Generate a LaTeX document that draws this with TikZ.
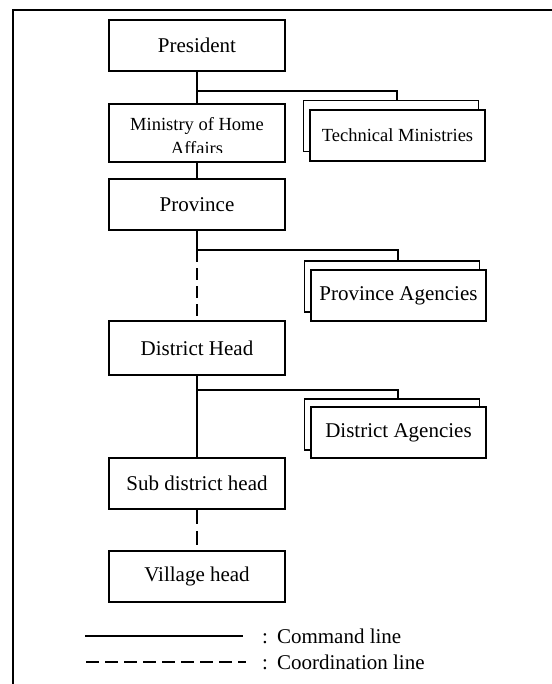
\documentclass[tikz,border=0pt]{standalone}
\usepackage{fontspec}
\setmainfont{Liberation Serif}
\begin{document}
\begin{tikzpicture}[x=1pt,y=-1pt,
  box/.style={draw,line width=1.8pt,fill=white,inner sep=0pt,
    minimum width=176pt,minimum height=51pt,
    font=\fontsize{21}{25}\selectfont},
  agency/.style={box,minimum width=175pt},
  smalltext/.style={font=\fontsize{18.5}{25}\selectfont},
  cmd/.style={line width=1.8pt},
  coordline/.style={line width=1.8pt,dash pattern=on 12pt off 6pt},
  legendtext/.style={anchor=west,inner sep=0pt,font=\fontsize{21}{25}\selectfont}]
\useasboundingbox (0,0) rectangle (551,684);

% outer frame (open to the right and bottom)
\draw[line width=2.4pt] (570,10) -- (13,10) -- (13,700);

% main chain of offices
\node[box] (pres) at (197,45.5) {President};
\node[box,minimum height=58pt] (moha) at (197,133) {};
\begin{scope}
  \clip (110,105) rectangle (284,152.5);
  \node[smalltext,anchor=base,inner sep=0pt] (mohaA) at (197,130.5) {Ministry of Home};
  \node[smalltext,anchor=base,inner sep=0pt] (mohaB) at (197,154.5) {Affairs};
\end{scope}
\node[box] (prov) at (197,204.5) {Province};
\node[box,minimum height=54pt] (dist) at (197,348) {District Head};
\node[box] (sub) at (197,483.5) {Sub district head};
\node[box] (vil) at (197,576.5) {Village head};

% stacked boxes for the sectoral bodies
\node[agency] (techB) at (391,126) {};
\node[agency,smalltext] (tech) at (397.5,135.5) {Technical Ministries};
\node[agency] (provagB) at (392,286.5) {};
\node[agency] (provag) at (398.5,295.5) {Province Agencies};
\node[agency] (distagB) at (392,424.5) {};
\node[agency] (distag) at (398.5,432.5) {District Agencies};

% junctions on the trunk
\coordinate (j1) at (197,91);
\coordinate (j2) at (197,250);
\coordinate (j3) at (197,390);

% command and coordination lines
\draw[cmd] (pres) -- (moha);
\draw[cmd] (j1) -| ([xshift=6pt]techB.north);
\draw[cmd] (moha) -- (prov);
\draw[cmd] (prov.south) -- (j2);
\draw[cmd] (j2) -| ([xshift=6pt]provagB.north);
\draw[coordline] (j2) -- (dist.north);
\draw[cmd] (dist) -- (sub);
\draw[cmd] (j3) -| ([xshift=6pt]distagB.north);
\draw[line width=1.8pt,dash pattern=on 14pt off 7pt] (sub.south) -- (vil.north);

% legend
\coordinate (ls1) at (85,636);
\coordinate (ls2) at (243,636);
\coordinate (ld1) at (86,662);
\coordinate (ld2) at (246,662);
\draw[cmd] (ls1) -- (ls2);
\draw[line width=1.8pt,dash pattern=on 13pt off 6pt] (ld1) -- (ld2);
\node[legendtext] (lcmd) at (262,636) {:\hspace{9pt}Command line};
\node[legendtext] (lcoord) at (262,662) {:\hspace{9pt}Coordination line};
\end{tikzpicture}
\end{document}
